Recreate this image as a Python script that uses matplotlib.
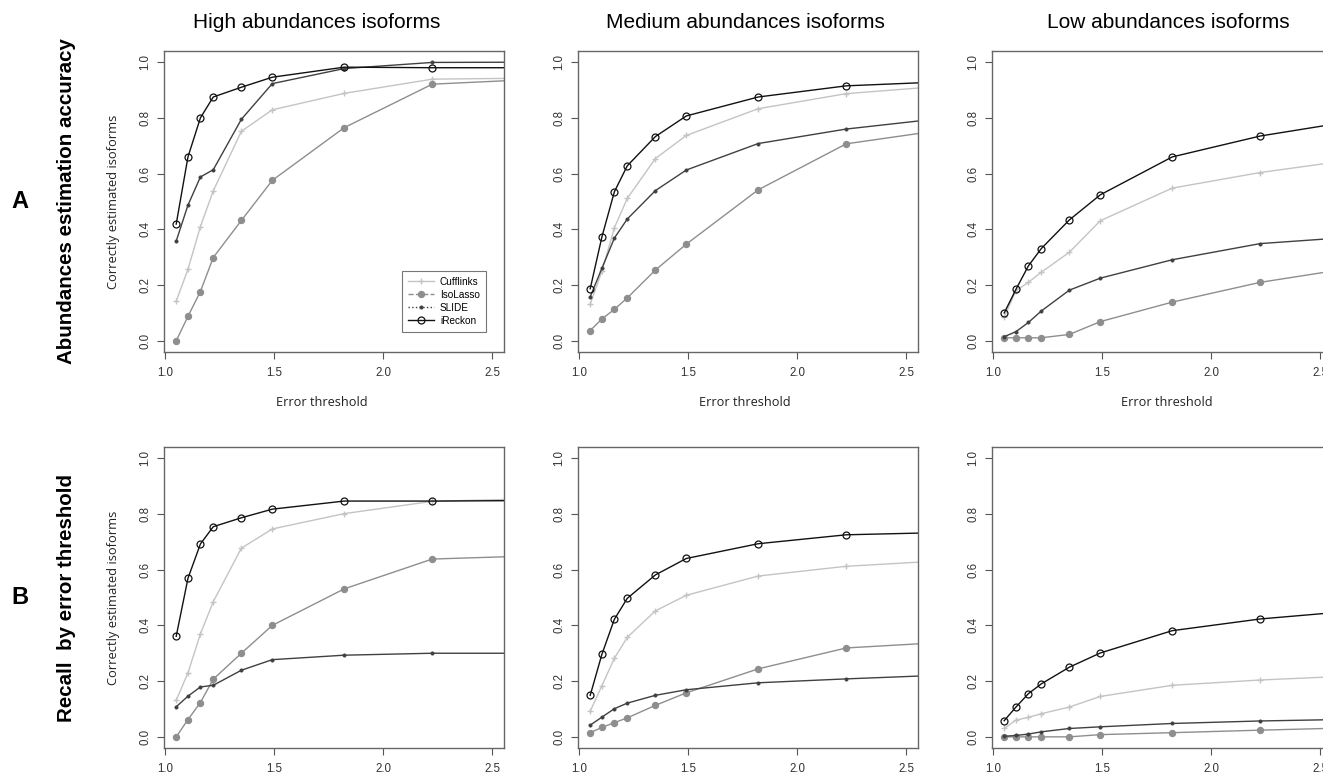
import matplotlib
matplotlib.use('Agg')
import matplotlib.pyplot as plt
from matplotlib.lines import Line2D

# Error thresholds (x values shared by every panel)
thresholds = [1.051, 1.105, 1.162, 1.221, 1.350, 1.492, 1.822, 2.226, 2.718]

methods = ['Cufflinks', 'IsoLasso', 'SLIDE', 'iReckon']

# Row A: abundances estimation accuracy
acc_high_cufflinks = [0.142, 0.257, 0.410, 0.538, 0.752, 0.829, 0.888, 0.939, 0.943]
acc_high_isolasso = [0.000, 0.088, 0.177, 0.299, 0.432, 0.576, 0.765, 0.921, 0.939]
acc_high_slide = [0.358, 0.487, 0.588, 0.614, 0.795, 0.923, 0.977, 0.999, 1.000]
acc_high_ireckon = [0.419, 0.660, 0.800, 0.875, 0.910, 0.946, 0.982, 0.980, 0.980]

acc_med_cufflinks = [0.132, 0.250, 0.406, 0.511, 0.654, 0.737, 0.833, 0.887, 0.917]
acc_med_isolasso = [0.037, 0.079, 0.113, 0.154, 0.254, 0.347, 0.542, 0.707, 0.762]
acc_med_slide = [0.158, 0.261, 0.369, 0.437, 0.539, 0.613, 0.708, 0.760, 0.803]
acc_med_ireckon = [0.187, 0.374, 0.535, 0.628, 0.733, 0.807, 0.875, 0.915, 0.931]

acc_low_cufflinks = [0.085, 0.180, 0.210, 0.246, 0.318, 0.431, 0.548, 0.604, 0.657]
acc_low_isolasso = [0.011, 0.011, 0.011, 0.011, 0.023, 0.069, 0.139, 0.210, 0.270]
acc_low_slide = [0.015, 0.033, 0.066, 0.107, 0.182, 0.225, 0.291, 0.349, 0.376]
acc_low_ireckon = [0.100, 0.185, 0.269, 0.331, 0.434, 0.524, 0.660, 0.735, 0.797]

# Row B: recall by error threshold
rec_high_cufflinks = [0.131, 0.230, 0.369, 0.485, 0.677, 0.746, 0.801, 0.845, 0.855]
rec_high_isolasso = [0.000, 0.062, 0.123, 0.207, 0.300, 0.400, 0.531, 0.638, 0.650]
rec_high_slide = [0.108, 0.146, 0.179, 0.185, 0.239, 0.277, 0.293, 0.300, 0.300]
rec_high_ireckon = [0.361, 0.569, 0.692, 0.754, 0.786, 0.817, 0.846, 0.846, 0.848]

rec_med_cufflinks = [0.092, 0.184, 0.282, 0.357, 0.452, 0.508, 0.577, 0.612, 0.634]
rec_med_isolasso = [0.015, 0.034, 0.051, 0.068, 0.113, 0.158, 0.244, 0.319, 0.341]
rec_med_slide = [0.042, 0.071, 0.101, 0.121, 0.149, 0.169, 0.194, 0.208, 0.223]
rec_med_ireckon = [0.149, 0.297, 0.422, 0.497, 0.581, 0.640, 0.693, 0.725, 0.734]

rec_low_cufflinks = [0.030, 0.060, 0.070, 0.083, 0.107, 0.145, 0.185, 0.204, 0.221]
rec_low_isolasso = [0.000, 0.000, 0.000, 0.000, 0.000, 0.008, 0.015, 0.024, 0.034]
rec_low_slide = [0.002, 0.005, 0.010, 0.018, 0.030, 0.036, 0.048, 0.057, 0.064]
rec_low_ireckon = [0.058, 0.107, 0.155, 0.190, 0.250, 0.301, 0.381, 0.423, 0.456]

col_titles = ['High abundances isoforms', 'Medium abundances isoforms', 'Low abundances isoforms']
row_titles = ['Abundances estimation accuracy', 'Recall  by error threshold']
row_letters = ['A', 'B']
x_ticks = [1.0, 1.5, 2.0, 2.5]
y_ticks = [0.0, 0.2, 0.4, 0.6, 0.8, 1.0]

panels = [
    [[acc_high_cufflinks, acc_high_isolasso, acc_high_slide, acc_high_ireckon],
     [acc_med_cufflinks, acc_med_isolasso, acc_med_slide, acc_med_ireckon],
     [acc_low_cufflinks, acc_low_isolasso, acc_low_slide, acc_low_ireckon]],
    [[rec_high_cufflinks, rec_high_isolasso, rec_high_slide, rec_high_ireckon],
     [rec_med_cufflinks, rec_med_isolasso, rec_med_slide, rec_med_ireckon],
     [rec_low_cufflinks, rec_low_isolasso, rec_low_slide, rec_low_ireckon]],
]

# Per-method styles (R-like grayscale)
styles = {
    'Cufflinks': dict(color='#c4c4c4', marker='+', ms=4, mew=1.0, mfc='#c4c4c4', legend_ls='-'),
    'IsoLasso': dict(color='#8e8e8e', marker='o', ms=4.5, mew=0.8, mfc='#8e8e8e', legend_ls='--'),
    'SLIDE': dict(color='#404040', marker='o', ms=2.3, mew=0.6, mfc='#404040', legend_ls=':'),
    'iReckon': dict(color='#111111', marker='o', ms=5, mew=0.9, mfc='none', legend_ls='-'),
}

W, H = 1323, 776
fig = plt.figure(figsize=(W / 100, H / 100), dpi=100)

def frac(x, y):
    return x / W, 1 - y / H

col_px = [(164, 504), (578, 918), (992, 1332)]
row_px = [(51, 352), (447, 748)]
title_x = [317, 745, 1168]

tick_font = dict(family='Liberation Sans', size=8.3)
label_font = 'Open Sans'

for r, (top, bot) in enumerate(row_px):
    for c, (left, right) in enumerate(col_px):
        ax = fig.add_axes([left / W, 1 - bot / H, (right - left) / W, (bot - top) / H])
        for name, values in zip(methods, panels[r][c]):
            s = styles[name]
            ax.plot(thresholds, values, color=s['color'], lw=1.0, marker=s['marker'],
                    ms=s['ms'], mew=s['mew'], mfc=s['mfc'], mec=s['color'])
        ax.set_xlim(0.995, 2.555)
        ax.set_ylim(-0.04, 1.04)
        ax.set_xticks(x_ticks)
        ax.set_yticks(y_ticks)
        ax.set_xticklabels([f'{t:.1f}' for t in x_ticks], **tick_font, color='#333333')
        ax.set_yticklabels([f'{t:.1f}' for t in y_ticks], **tick_font, color='#333333',
                           rotation=90, va='center')
        ax.tick_params(axis='both', direction='out', length=5, width=0.8, color='#555555')
        ax.tick_params(axis='x', pad=6)
        ax.tick_params(axis='y', pad=4)
        for sp in ax.spines.values():
            sp.set_color('#666666')
            sp.set_linewidth(1.0)

        if r == 0 and c == 0:
            handles = [Line2D([], [], color=styles[m]['color'], ls=styles[m]['legend_ls'], lw=1.0,
                              marker=styles[m]['marker'], ms=styles[m]['ms'],
                              mfc=styles[m]['mfc'], mec=styles[m]['color'], mew=styles[m]['mew'])
                       for m in methods]
            leg = ax.legend(handles, methods, loc='upper left', bbox_to_anchor=(0.70, 0.27),
                            prop=dict(family='Liberation Sans', size=7.2), fancybox=False,
                            handlelength=2.6, handletextpad=0.6, labelspacing=0.3,
                            borderpad=0.6, borderaxespad=0)
            leg.get_frame().set_edgecolor('#555555')
            leg.get_frame().set_linewidth(0.8)

# Column titles
for cx, title in zip(title_x, col_titles):
    x, y = frac(cx, 22)
    fig.text(x, y, title, ha='center', va='center', family='Liberation Sans', fontsize=15)

# x labels under the top row
for cx in [322, 745, 1167]:
    x, y = frac(cx, 402)
    fig.text(x, y, 'Error threshold', ha='center', va='center', family=label_font,
             fontsize=9.2, color='#222222')

# Row labels, letters and y labels
for (top, bot), title, letter in zip(row_px, row_titles, row_letters):
    cy = (top + bot) / 2
    x, y = frac(67, cy)
    fig.text(x, y, title, ha='center', va='center', rotation=90, family='Liberation Sans',
             fontweight='bold', fontsize=14.8)
    x, y = frac(20, cy)
    fig.text(x, y, letter, ha='center', va='center', family='Liberation Sans',
             fontweight='bold', fontsize=17)
    x, y = frac(113, cy)
    fig.text(x, y, 'Correctly estimated isoforms', ha='center', va='center', rotation=90,
             family=label_font, fontsize=9.3, color='#222222')

fig.savefig('out.png', dpi=100)
